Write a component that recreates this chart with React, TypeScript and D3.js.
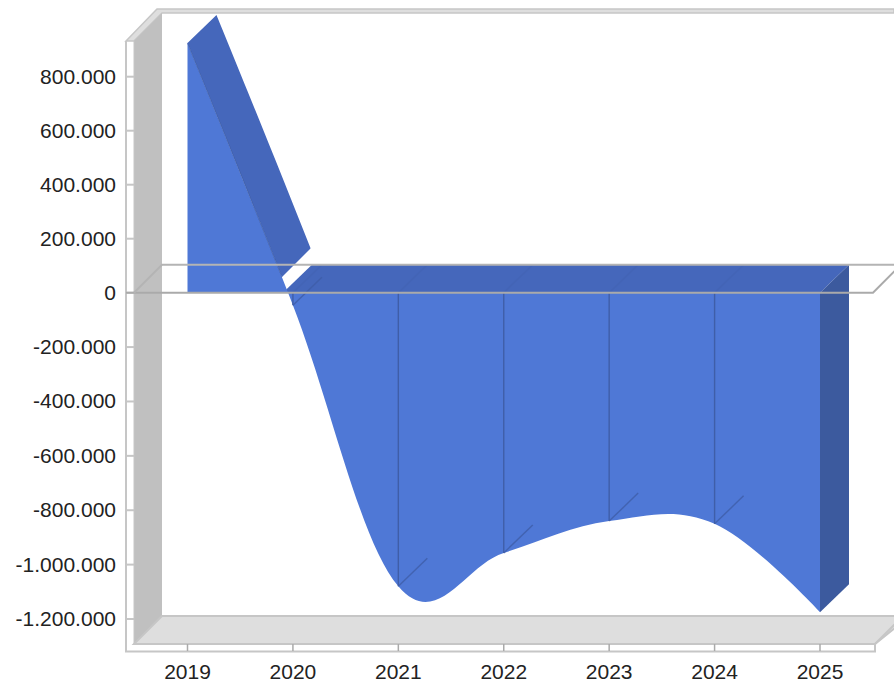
import * as d3 from 'd3';

const years = [2019, 2020, 2021, 2022, 2023, 2024, 2025];
const values = [925000, -46000, -1080000, -957000, -840000, -850000, -1175000];
const yTicks = [800000, 600000, 400000, 200000, 0, -200000, -400000, -600000, -800000, -1000000, -1200000];
const zeroCrossYear = 2019.905;

const frame = '#c6c6c6';
const front = '#4f78d6';
const top = '#4567bb';
const side = '#3c5a9e';
const seam = '#3f5ea8';
const depthX = 29;
const depthY = -28;

const fmt = d3.formatLocale({ decimal: ',', thousands: '.', grouping: [3], currency: ['', ''], minus: '-' }).format(',');

const App = () => {
  const x = d3.scaleLinear().domain([2019, 2025]).range([187.5, 820]);
  const y = d3.scaleLinear().domain([-1200000, 0, 800000]).range([619, 292.7, 76.7]);
  const y0 = y(0);

  const points = years.map((year, i) => ({ year, value: values[i] }));

  const curve = d3.curveCardinal.tension(-0.1);
  const area = d3
    .area<{ year: number; value: number }>()
    .x((d) => x(d.year))
    .y0(y0)
    .y1((d) => y(d.value))
    .curve(curve);
  const line = d3
    .line<{ year: number; value: number }>()
    .x((d) => x(d.year))
    .y((d) => y(d.value))
    .curve(curve);
  const backLine = d3
    .line<{ year: number; value: number }>()
    .x((d) => x(d.year) + depthX)
    .y((d) => y(d.value) + depthY)
    .curve(curve);

  const ribbon = `${line(points)}L${backLine([...points].reverse())!.slice(1)}Z`;
  const xLast = x(2025);
  const yLast = y(values[values.length - 1]);
  const xCross = x(zeroCrossYear);

  return (
    <svg width={894} height={682} style={{ position: 'absolute', left: 0, top: 0 }} fontFamily="'Liberation Sans', Arial, sans-serif">
      <defs>
        <clipPath id="positive-part">
          <polygon points="0,0 559,0 0,559" />
        </clipPath>
      </defs>
      <rect width={894} height={682} fill="#fff" />

      {/* box: top edge, left wall, floor */}
      <polygon points="126,41 134,41 162,13 894,13 894,9 157,9" fill="#dedede" stroke={frame} strokeWidth={1.5} />
      <polygon points="134,41 162,13 162,616 134,644" fill="#c0c0c0" />
      <polygon points="134,644 162,616 910,616 875,644" fill="#dedede" stroke={frame} strokeWidth={2} />
      <path d="M126,41V651.5H875V644L900,619" fill="none" stroke={frame} strokeWidth={2} />
      <path d="M134,41V644" fill="none" stroke={frame} strokeWidth={1} />

      {/* y axis */}
      {yTicks.map((t) => (
        <g key={t}>
          <line x1={126} x2={134} y1={y(t)} y2={y(t)} stroke={frame} strokeWidth={2} />
          <text x={116} y={y(t) + 7} textAnchor="end" fontSize={21} fill="#222">
            {fmt(t)}
          </text>
        </g>
      ))}

      {/* x axis */}
      {years.map((year) => (
        <g key={year}>
          <line x1={x(year)} x2={x(year)} y1={644} y2={651} stroke="#aaa" strokeWidth={1.5} />
          <text x={x(year)} y={679} textAnchor="middle" fontSize={21} fill="#222">
            {year}
          </text>
        </g>
      ))}

      {/* 3d faces */}
      <path d={ribbon} fill={top} clipPath="url(#positive-part)" />
      <polygon
        points={`${xCross},${y0} ${xCross + depthX},${y0 + depthY} ${xLast + depthX},${y0 + depthY} ${xLast},${y0}`}
        fill={top}
      />
      <path d={area(points)!} fill={front} />
      <path d={line(points)!} fill="none" stroke={seam} strokeWidth={1} opacity={0.8} clipPath="url(#positive-part)" />
      <polygon
        points={`${xLast},${y0} ${xLast + depthX},${y0 + depthY} ${xLast + depthX},${yLast + depthY} ${xLast},${yLast}`}
        fill={side}
      />

      {/* seams at each year */}
      {points.slice(1, -1).map((d) => (
        <g key={d.year} stroke={seam} strokeWidth={1.4}>
          <line x1={x(d.year)} x2={x(d.year)} y1={y0} y2={y(d.value)} />
          <line x1={x(d.year)} x2={x(d.year) + depthX} y1={y(d.value)} y2={y(d.value) + depthY} opacity={0.8} />
          <line x1={x(d.year)} x2={x(d.year) + depthX} y1={y0} y2={y0 + depthY} opacity={0.25} />
        </g>
      ))}

      {/* zero plane */}
      <path d={`M126,${y0}H873L900,${y0 - 27}`} fill="none" stroke="#aaa" strokeWidth={2} />
      <path d={`M134,${y0}L162,${y0 + depthY}H894`} fill="none" stroke="#b4b4b4" strokeWidth={2} />
    </svg>
  );
};

export default App;
